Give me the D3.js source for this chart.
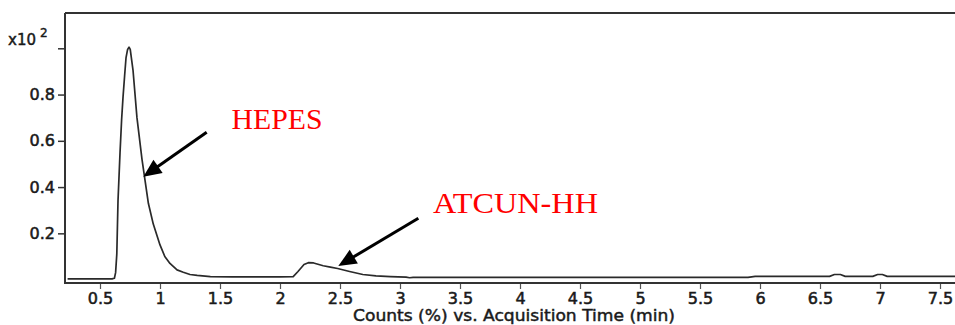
<!DOCTYPE html>
<html>
<head>
<meta charset="utf-8">
<script src="https://cdn.jsdelivr.net/npm/d3@7"></script>
<style>
  html, body { margin: 0; padding: 0; background: #fff; }
  svg { display: block; }
  .tick text { font-family: "DejaVu Sans", sans-serif; font-size: 16px; fill: #1a1a1a; stroke: #1a1a1a; stroke-width: 0.55px; }
</style>
</head>
<body>
<svg id="chart" width="955" height="325"></svg>
<script>
// Chromatogram trace: acquisition time (min) and counts (x10^2)
const times = [0.23, 0.60, 0.62, 0.63, 0.64, 0.65, 0.667, 0.68, 0.692, 0.705, 0.717, 0.73, 0.742, 0.752,
  0.775, 0.808, 0.85, 0.875, 0.903, 0.944, 1.0, 1.04, 1.083, 1.142, 1.194, 1.25, 1.31, 1.42,
  1.6, 1.8, 2.0, 2.11, 2.15, 2.2, 2.236, 2.28, 2.36, 2.42, 2.48, 2.58, 2.69, 2.8, 2.92, 3.05, 3.08, 3.11,
  3.5, 4.0, 4.5, 5.0, 5.5, 5.9, 5.96, 6.2, 6.58, 6.62, 6.67, 6.71, 6.94, 6.98, 7.02, 7.06, 7.4, 7.7];
const counts = [0.003, 0.003, 0.006, 0.03, 0.11, 0.34, 0.55, 0.69, 0.79, 0.88, 0.96, 0.995, 1.005, 0.995,
  0.906, 0.70, 0.52, 0.43, 0.33, 0.24, 0.15, 0.10, 0.07, 0.042, 0.032, 0.022, 0.018, 0.013,
  0.012, 0.012, 0.012, 0.013, 0.035, 0.065, 0.073, 0.072, 0.06, 0.054, 0.048, 0.035, 0.022, 0.016, 0.013, 0.011, 0.008, 0.010,
  0.010, 0.010, 0.010, 0.010, 0.010, 0.010, 0.014, 0.014, 0.014, 0.022, 0.022, 0.014, 0.014, 0.022, 0.022, 0.014, 0.014, 0.014];

const xTicks = [0.5, 1, 1.5, 2, 2.5, 3, 3.5, 4, 4.5, 5, 5.5, 6, 6.5, 7, 7.5];
const xTickLabels = ["0.5", "1", "1.5", "2", "2.5", "3", "3.5", "4", "4.5", "5", "5.5", "6", "6.5", "7", "7.5"];
const yTicks = [0.2, 0.4, 0.6, 0.8, 1.0];
const yTickLabels = ["0.2", "0.4", "0.6", "0.8", ""];

const peakLabels = ["HEPES", "ATCUN-HH"];

// Layout
const svg = d3.select("#chart");
const plotLeft = 65, plotTop = 13, plotBottom = 283;

const x = d3.scaleLinear().domain([0.2, 7.7]).range([64, 964]);
const y = d3.scaleLinear().domain([-0.0147, 1.1526]).range([plotBottom, plotTop]);

// Frame
const frame = svg.append("g").attr("stroke", "#333").attr("stroke-width", 2).attr("fill", "none");
frame.append("line").attr("x1", plotLeft).attr("x2", plotLeft).attr("y1", plotTop).attr("y2", plotBottom + 1);
frame.append("line").attr("x1", plotLeft).attr("x2", 955).attr("y1", plotTop).attr("y2", plotTop);
frame.append("line").attr("x1", plotLeft).attr("x2", 955).attr("y1", plotBottom).attr("y2", plotBottom);

// Axes
const xAxis = svg.append("g")
  .attr("transform", `translate(0,${plotBottom + 1})`)
  .call(d3.axisBottom(x).tickValues(xTicks)
    .tickFormat((d, i) => xTickLabels[i]).tickSize(5).tickPadding(4).tickSizeOuter(0));
xAxis.select(".domain").remove();
xAxis.selectAll(".tick line").attr("stroke", "#555").attr("stroke-width", 1.2);

const yAxis = svg.append("g")
  .attr("transform", `translate(${plotLeft - 1},0)`)
  .call(d3.axisLeft(y).tickValues(yTicks)
    .tickFormat((d, i) => yTickLabels[i]).tickSize(6).tickPadding(3).tickSizeOuter(0));
yAxis.select(".domain").remove();
yAxis.selectAll(".tick line").attr("stroke", "#333").attr("stroke-width", 1.5);

// Exponent label
const expo = svg.append("text")
  .attr("x", 8).attr("y", 45)
  .attr("font-family", "DejaVu Sans, sans-serif")
  .attr("fill", "#1a1a1a").attr("stroke", "#1a1a1a").attr("stroke-width", 0.45);
expo.append("tspan").attr("font-size", 15).text("x10");
expo.append("tspan").attr("font-size", 12).attr("dx", 4).attr("dy", -8).text("2");

// Axis title
svg.append("text")
  .attr("x", (x.range()[0] + x.range()[1]) / 2)
  .attr("y", 321)
  .attr("text-anchor", "middle")
  .attr("font-family", "DejaVu Sans, sans-serif")
  .attr("font-size", 15.5)
  .attr("fill", "#1a1a1a").attr("stroke", "#1a1a1a").attr("stroke-width", 0.45)
  .attr("textLength", 322).attr("lengthAdjust", "spacingAndGlyphs")
  .text("Counts (%) vs. Acquisition Time (min)");

// Trace
const pts = times.map((t, i) => [t, counts[i]]);
svg.append("path")
  .datum(pts)
  .attr("fill", "none")
  .attr("stroke", "#2a2a2a")
  .attr("stroke-width", 1.7)
  .attr("stroke-linejoin", "round")
  .attr("d", d3.line().x(d => x(d[0])).y(d => y(d[1])));

// Peak annotations (positions in data units)
const annotations = [
  { label: peakLabels[0], tip: [0.861, 0.445], tail: [1.389, 0.637], text: [1.597, 0.651], width: 91 },
  { label: peakLabels[1], tip: [2.486, 0.059], tail: [3.153, 0.265], text: [3.275, 0.288], width: 165 }
];

annotations.forEach(a => {
  const x1 = x(a.tail[0]), y1 = y(a.tail[1]);
  const x2 = x(a.tip[0]), y2 = y(a.tip[1]);
  const ang = Math.atan2(y2 - y1, x2 - x1);
  const headLen = 18, headHalf = 8;
  const bx = x2 - headLen * Math.cos(ang), by = y2 - headLen * Math.sin(ang);
  svg.append("line")
    .attr("x1", x1).attr("y1", y1)
    .attr("x2", bx + 2 * Math.cos(ang)).attr("y2", by + 2 * Math.sin(ang))
    .attr("stroke", "#000").attr("stroke-width", 3);
  const px = -Math.sin(ang), py = Math.cos(ang);
  svg.append("path")
    .attr("d", `M${x2},${y2}L${bx + headHalf * px},${by + headHalf * py}L${bx - headHalf * px},${by - headHalf * py}Z`)
    .attr("fill", "#000");
  svg.append("text")
    .attr("x", x(a.text[0])).attr("y", y(a.text[1]))
    .attr("font-family", "Liberation Serif, Times New Roman, serif")
    .attr("font-size", 29)
    .attr("fill", "#ff0000")
    .attr("textLength", a.width).attr("lengthAdjust", "spacingAndGlyphs")
    .text(a.label);
});
</script>
</body>
</html>
